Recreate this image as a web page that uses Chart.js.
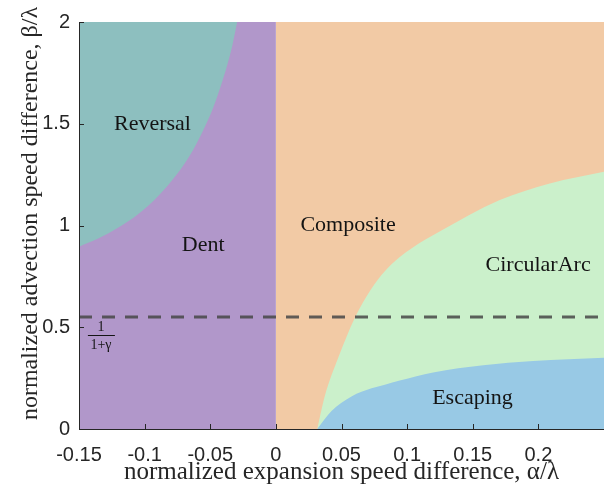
<!DOCTYPE html>
<html><head><meta charset="utf-8">
<script src="https://cdn.jsdelivr.net/npm/chart.js@4/dist/chart.umd.min.js"></script>
<style>html,body{margin:0;padding:0;background:#fff}</style>
</head><body>
<canvas id="c" width="605" height="487"></canvas>
<script>
// ---- data ----
const xTickValues = [-0.15, -0.1, -0.05, 0, 0.05, 0.1, 0.15, 0.2];
const xTickLabels = ['-0.15', '-0.1', '-0.05', '0', '0.05', '0.1', '0.15', '0.2'];
const yTickValues = [0, 0.5, 1, 1.5, 2];
const yTickLabels = ['0', '0.5', '1', '1.5', '2'];

// Dent region (alpha < 0) and Composite region (alpha >= 0): full-height bands
const dentX = [-0.15, 0];
const dentY = [2, 2];
const compositeX = [0, 0.25];
const compositeY = [2, 2];

// Reversal / Dent boundary (Reversal lies above)
const reversalX = [-0.15, -0.135, -0.12, -0.105, -0.09, -0.075, -0.065, -0.056, -0.048, -0.042, -0.037, -0.033, -0.0295];
const reversalY = [0.896, 0.937, 0.99, 1.055, 1.142, 1.255, 1.35, 1.46, 1.575, 1.685, 1.79, 1.89, 2.0];

// Composite / CircularArc boundary (CircularArc lies below)
const arcX = [0.0315, 0.0373, 0.0475, 0.0602, 0.0729, 0.083, 0.0944, 0.1038, 0.1241, 0.1706, 0.2087, 0.25];
const arcY = [0, 0.162, 0.35, 0.547, 0.69, 0.775, 0.845, 0.89, 0.968, 1.125, 1.207, 1.264];

// CircularArc / Escaping boundary (Escaping lies below)
const escX = [0.0315, 0.0424, 0.0576, 0.0729, 0.083, 0.0944, 0.1198, 0.158, 0.196, 0.25];
const escY = [0, 0.088, 0.16, 0.2, 0.218, 0.238, 0.278, 0.313, 0.334, 0.35];

// threshold 1/(1+gamma)
const thresholdX = [-0.15, 0.25];
const thresholdY = [0.55, 0.55];

const regionNames = ['Reversal', 'Dent', 'Composite', 'CircularArc', 'Escaping'];
const regionLabelX = [-0.094, -0.0554, 0.055, 0.1998, 0.1498];
const regionLabelY = [1.5, 0.904, 1.002, 0.806, 0.151];

const pts = (xs, ys) => xs.map((x, i) => ({x, y: ys[i]}));

const area = (label, xs, ys, color, fill, order) => ({
  label, data: pts(xs, ys), showLine: true, pointRadius: 0,
  borderWidth: 0, borderColor: 'rgba(0,0,0,0)', backgroundColor: color,
  fill, order, tension: 0.4, cubicInterpolationMode: 'monotone'
});

const axesPlugin = {
  id: 'axesInward',
  afterDatasetsDraw(chart) {
    const {ctx, chartArea: a, scales: {x, y}} = chart;
    ctx.save();
    ctx.strokeStyle = '#262626';
    ctx.lineWidth = 1;
    ctx.beginPath();
    ctx.moveTo(a.left + 0.5, a.top);
    ctx.lineTo(a.left + 0.5, a.bottom + 0.5);
    ctx.lineTo(a.right, a.bottom + 0.5);
    x.ticks.forEach(t => {
      const px = Math.round(x.getPixelForValue(t.value)) + 0.5;
      ctx.moveTo(px, a.bottom); ctx.lineTo(px, a.bottom - 5);
    });
    y.ticks.forEach(t => {
      const py = Math.round(y.getPixelForValue(t.value)) + 0.5;
      ctx.moveTo(a.left, py); ctx.lineTo(a.left + 5, py);
    });
    ctx.stroke();

    // region labels
    ctx.fillStyle = '#141414';
    ctx.font = '22px "Liberation Serif"';
    ctx.textAlign = 'center';
    ctx.textBaseline = 'middle';
    regionNames.forEach((n, i) => {
      ctx.fillText(n, x.getPixelForValue(regionLabelX[i]), y.getPixelForValue(regionLabelY[i]));
    });
    // fraction label 1/(1+γ)
    const fx = x.getPixelForValue(-0.1333), fy = y.getPixelForValue(0.462);
    ctx.font = '14px "Liberation Serif"';
    ctx.fillText('1', fx, fy - 8);
    ctx.fillText('1+γ', fx, fy + 10);
    ctx.lineWidth = 1;
    ctx.strokeStyle = '#141414';
    ctx.beginPath();
    ctx.moveTo(fx - 13, Math.round(fy) + 0.5);
    ctx.lineTo(fx + 14, Math.round(fy) + 0.5);
    ctx.stroke();
    ctx.restore();
  }
};

new Chart(document.getElementById('c'), {
  type: 'scatter',
  data: {
    datasets: [
      {
        label: 'threshold', data: pts(thresholdX, thresholdY), showLine: true, pointRadius: 0,
        borderColor: 'rgba(70,70,70,0.85)', borderWidth: 3, borderDash: [13, 10], fill: false, order: 1
      },
      area('Escaping', escX, escY, '#98C9E5', 'origin', 2),
      area('CircularArc', arcX, arcY, '#CBF0CB', 'origin', 3),
      area('Reversal', reversalX, reversalY, '#8DBFBF', 'end', 4),
      area('Composite', compositeX, compositeY, '#F2CAA5', 'origin', 5),
      area('Dent', dentX, dentY, '#B197CA', 'origin', 6)
    ]
  },
  options: {
    responsive: false,
    animation: false,
    devicePixelRatio: 1,
    layout: {padding: {left: 0, top: 22, right: 1, bottom: 0}},
    plugins: {legend: {display: false}, tooltip: {enabled: false}},
    scales: {
      x: {
        type: 'linear', min: -0.15, max: 0.25,
        afterBuildTicks: s => { s.ticks = xTickValues.map(v => ({value: v})); },
        afterFit: s => { s.height = 58; },
        grid: {display: false, drawTicks: false},
        border: {display: false},
        ticks: {
          padding: 14, color: '#262626', font: {family: 'Liberation Sans', size: 20},
          maxRotation: 0, autoSkip: false,
          callback: (v, i) => xTickLabels[i]
        },
        title: {
          display: true, text: 'normalized expansion speed difference, α/λ',
          color: '#262626', font: {family: 'Liberation Serif', size: 25},
          padding: {top: 0, bottom: 0}
        }
      },
      y: {
        type: 'linear', min: 0, max: 2,
        afterBuildTicks: s => { s.ticks = yTickValues.map(v => ({value: v})); },
        afterFit: s => { s.width = 79; },
        grid: {display: false, drawTicks: false},
        border: {display: false},
        ticks: {
          padding: 9, color: '#262626', font: {family: 'Liberation Sans', size: 20},
          autoSkip: false,
          callback: (v, i) => yTickLabels[i]
        },
        title: {
          display: true, text: '    normalized advection speed difference, β/λ',
          color: '#262626', font: {family: 'Liberation Serif', size: 24},
          padding: {top: 16, bottom: 0}
        }
      }
    }
  },
  plugins: [axesPlugin]
});
</script>
</body></html>
